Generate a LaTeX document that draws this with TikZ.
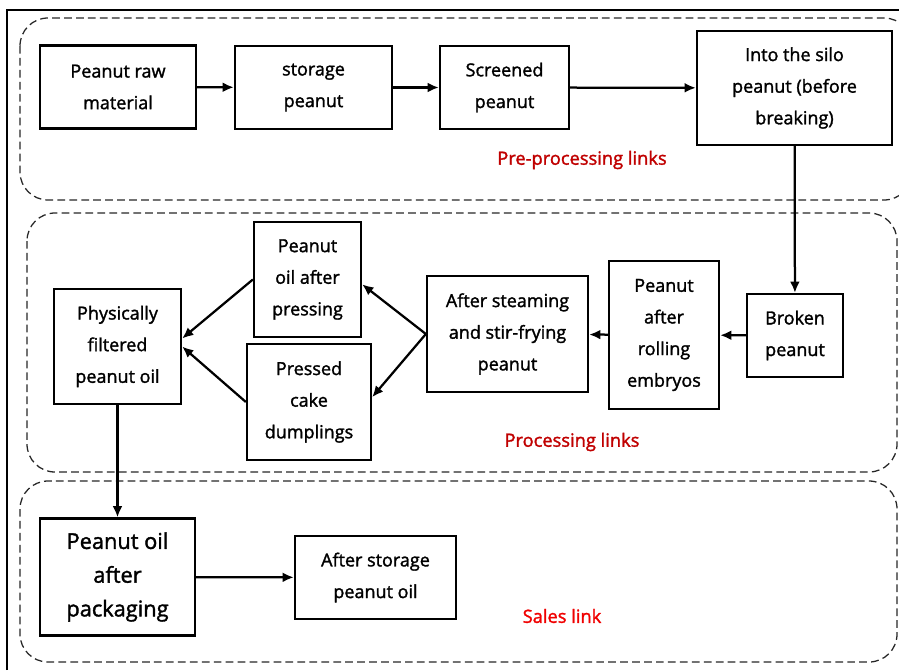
\documentclass[tikz,border=0pt]{standalone}
\usepackage{fontspec}
\setmainfont{Open Sans}
\newfontfamily\stagefont[FakeBold=1.6]{Open Sans}
\usetikzlibrary{arrows.meta,positioning}
\definecolor{linkred}{RGB}{192,0,0}
\definecolor{salesred}{RGB}{240,0,0}

\tikzset{
  stage/.style={draw, line width=1.6pt, align=center, inner sep=2pt,
    font=\stagefont\fontsize{12.8}{22.5}\selectfont},
  boxsize/.style 2 args={minimum width=#1*0.025cm, minimum height=#2*0.025cm},
  zone/.style={draw=black!85, line width=0.9pt, dash pattern=on 5.5pt off 3pt, rounded corners=0.7cm},
  flow/.style={-{Latex[length=8pt,width=7pt]}, line width=1.6pt},
  linklabel/.style={font=\stagefont\fontsize{13}{15}\selectfont}
}

\begin{document}
\begin{tikzpicture}[x=0.025cm, y=-0.025cm]
  \useasboundingbox (0,0) rectangle (899,670);
  % frame
  \draw[line width=1pt] (7,670) -- (7,10) -- (905,10);

  % zones
  \draw[zone] (20,18) rectangle (912,200);
  \draw[zone] (27,213) rectangle (897,472);
  \draw[zone] (20,481) rectangle (897,662);

  % pre-processing
  \node[stage, boxsize={156}{83}] (raw) at (118,87) {Peanut raw\\material};
  \node[stage, boxsize={157}{83}] (store) at (313.5,87.5) {storage\\peanut};
  \node[stage, boxsize={129}{83}] (screen) at (504.5,87.5) {Screened\\peanut};
  \node[stage, boxsize={195}{114}] (silo) at (794.5,88) {Into the silo\\peanut (before\\breaking)};
  \node[linklabel, text=linkred] (prelab) at (582,160) {Pre-processing links};

  \draw[flow] (raw) -- (store);
  \draw[flow] (store) -- (screen);
  \draw[flow] (screen) -- (silo);

  % processing
  \node[stage, boxsize={96}{83}] (broken) at (795,335.5) {Broken\\peanut};
  \node[stage, boxsize={110}{148}] (embryo) at (664,335) {Peanut\\after\\rolling\\embryos};
  \node[stage, boxsize={161}{116}] (steam) at (507.5,334) {After steaming\\and stir-frying\\peanut};
  \node[stage, boxsize={107}{115}] (press) at (307.5,279.5) {Peanut\\oil after\\pressing};
  \node[stage, boxsize={124}{116}] (cake) at (309,402) {Pressed\\cake\\dumplings};
  \node[stage, boxsize={127}{115}] (filter) at (117.5,346.5) {Physically\\filtered\\peanut oil};
  \node[linklabel, text=linkred] (proclab) at (572,442) {Processing links};

  \draw[flow] (silo) -- (broken);
  \draw[flow] (broken) -- (embryo);
  \draw[flow] (embryo) -- (steam);
  \draw[flow] (steam.west) -- ([yshift=-0.12cm]press.east);
  \draw[flow] (steam.west) -- ([yshift=0.12cm]cake.east);
  \draw[flow] (press.west) -- ([yshift=0.2cm]filter.east);
  \draw[flow] (cake.west) -- (filter.east);

  % sales
  \node[stage, boxsize={155}{117}, font=\stagefont\fontsize{15.5}{24}\selectfont] (pack) at (117.5,577) {Peanut oil\\after\\packaging};
  \node[stage, boxsize={161}{83}] (oilstore) at (375.5,577.5) {After storage\\peanut oil};
  \node[linklabel, text=salesred] (saleslab) at (562,616) {Sales link};

  \draw[flow] (filter) -- (pack);
  \draw[flow] (pack) -- (oilstore);
\end{tikzpicture}
\end{document}
